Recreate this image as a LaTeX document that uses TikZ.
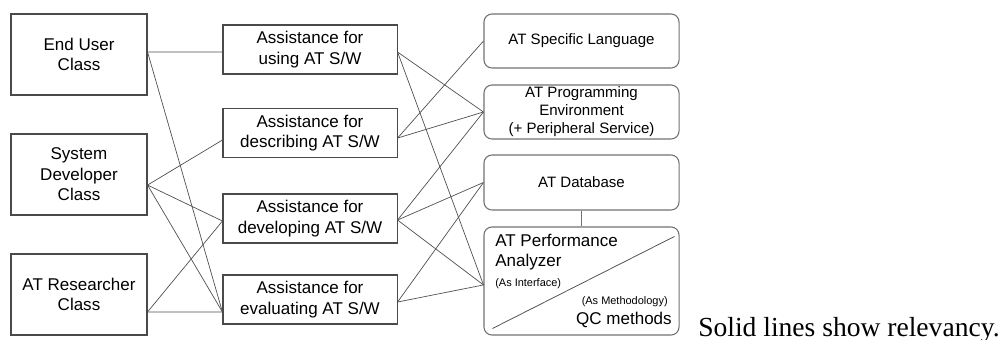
\documentclass[tikz,border=0pt]{standalone}
\usepackage{fontspec}
\setmainfont{Liberation Sans}
\newfontfamily\notefont{Liberation Serif}
\usepackage{xcolor}
\definecolor{boxline}{HTML}{4A4A4A}
\definecolor{roundline}{HTML}{727272}
\definecolor{linkline}{HTML}{505050}
\usepackage{tikz}
\usetikzlibrary{positioning, calc}

\begin{document}
\begin{tikzpicture}[
  x=0.025cm, y=-0.025cm,
  classbox/.style={draw=boxline, line width=0.75pt, minimum width=3.4cm, minimum height=2.025cm,
    align=center, inner sep=1pt, font=\fontsize{12.1}{14.6}\selectfont},
  helpbox/.style={draw=boxline, line width=0.75pt, minimum width=4.35cm, minimum height=1.225cm,
    align=center, inner sep=1pt, font=\fontsize{12.1}{14.4}\selectfont},
  toolbox/.style={draw=roundline, line width=0.75pt, rounded corners=0.2cm, minimum width=4.875cm,
    minimum height=1.35cm, align=center, inner sep=1pt, font=\fontsize{10.7}{12.8}\selectfont},
  link/.style={draw=linkline, line width=0.5pt}
]
  \useasboundingbox (0,0) rectangle (1005,340);

  % User classes
  \node[classbox] (eu) at (79,54.5) {End User\\Class};
  \node[classbox] (sd) at (79,174.5) {System\\Developer\\Class};
  \node[classbox] (atr) at (79,294.5) {AT Researcher\\Class};

  % Assistance
  \node[helpbox] (use) at (310,49.5) {Assistance for\\using AT S/W};
  \node[helpbox] (desc) at (310,133) {Assistance for\\describing AT S/W};
  \node[helpbox] (dev) at (310,218.5) {Assistance for\\developing AT S/W};
  \node[helpbox] (eval) at (310,299.5) {Assistance for\\evaluating AT S/W};

  % AT tools
  \node[toolbox] (lang) at (581.5,41) {AT Specific Language};
  \node[toolbox] (env) at (581.5,112) {AT Programming\\Environment\\(+ Peripheral Service)};
  \node[toolbox, minimum height=1.375cm] (db) at (581.5,182.5) {AT Database};
  \node[toolbox, minimum height=2.7cm] (perf) at (581.5,281) {};

  % Performance analyzer contents
  \draw[linkline, line width=0.55pt] ([xshift=6.4pt, yshift=5pt]perf.south west)
    -- ([xshift=-3.6pt, yshift=-7.1pt]perf.north east);
  \node[anchor=west, align=left, inner sep=0, font=\fontsize{12.1}{14.2}\selectfont]
    (perfname) at (495,252) {AT Performance\\Analyzer};
  \node[anchor=west, inner sep=0, font=\fontsize{7.8}{9}\selectfont] (iface) at (495,284) {(As Interface)};
  \node[anchor=east, inner sep=0, font=\fontsize{7.8}{9}\selectfont] (meth) at (668,302) {(As Methodology)};
  \node[anchor=east, inner sep=0, font=\fontsize{12.1}{14}\selectfont] (qc) at (672,320) {QC methods};

  % Classes to assistance
  \draw[link] ([yshift=1.8pt]eu.east) -- ([yshift=-1.8pt]use.west);
  \draw[link] ([yshift=1.8pt]eu.east) -- ([yshift=-8.9pt]eval.west);
  \draw[link] ([yshift=-7.5pt]sd.east) -- ([yshift=-5pt]desc.west);
  \draw[link] ([yshift=-7.5pt]sd.east) -- ([yshift=-1.8pt]dev.west);
  \draw[link] ([yshift=-7.5pt]sd.east) -- ([yshift=-8.9pt]eval.west);
  \draw[link] ([yshift=-12.4pt]atr.east) -- ([yshift=-1.8pt]dev.west);
  \draw[link] ([yshift=-12.4pt]atr.east) -- ([yshift=-8.9pt]eval.west);

  % Assistance to tools
  \draw[link] ([yshift=-1.8pt]use.east) -- (env.west);
  \draw[link] ([yshift=-1.8pt]use.east) -- ([yshift=-2.8pt]perf.west);
  \draw[link] ([yshift=-3.6pt]desc.east) -- (lang.west);
  \draw[link] ([yshift=-3.6pt]desc.east) -- (env.west);
  \draw[link] ([yshift=-1.1pt]dev.east) -- (env.west);
  \draw[link] ([yshift=-1.1pt]dev.east) -- (db.west);
  \draw[link] ([yshift=-1.1pt]dev.east) -- ([yshift=-2.8pt]perf.west);
  \draw[link] ([yshift=-1.8pt]eval.east) -- (db.west);
  \draw[link] ([yshift=-1.8pt]eval.east) -- ([yshift=-2.8pt]perf.west);
  \draw[roundline, line width=0.75pt] (db.south) -- (perf.north);

  \node[anchor=base west, inner sep=0, font=\notefont\fontsize{19.6}{22}\selectfont] (note) at (698,336)
    {Solid lines show relevancy.};
\end{tikzpicture}
\end{document}
